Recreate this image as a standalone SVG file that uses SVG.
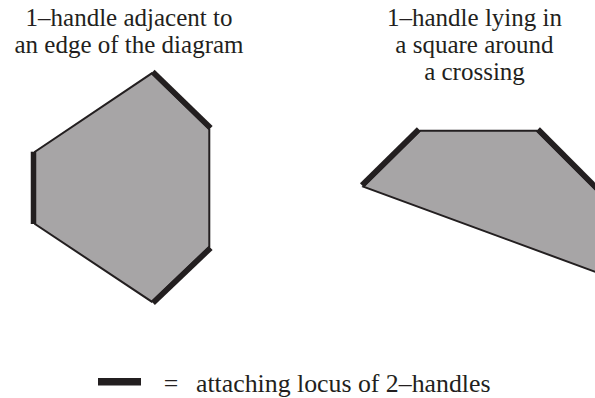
<svg xmlns="http://www.w3.org/2000/svg" width="595" height="398" viewBox="0 0 595 398">
<style>
.t{font-family:'Liberation Serif','Times New Roman','DejaVu Serif',serif;font-size:25px;fill:#231f20;text-anchor:middle}
.lg{font-size:25.8px}
.shape{fill:#a7a5a6;stroke:#231f20;stroke-width:2;stroke-linejoin:miter}
.thick{stroke:#231f20;stroke-width:5.5;stroke-linecap:butt;fill:none}
</style>
<rect width="595" height="398" fill="#ffffff"/>
<g id="title-left">
<text class="t" font-family="Liberation Serif, serif" x="129" y="26">1–handle adjacent to</text>
<text class="t" font-family="Liberation Serif, serif" x="129" y="53">an edge of the diagram</text>
</g>
<g id="title-right">
<text class="t" font-family="Liberation Serif, serif" x="474.5" y="26">1–handle lying in</text>
<text class="t" font-family="Liberation Serif, serif" x="474.5" y="53">a square around</text>
<text class="t" font-family="Liberation Serif, serif" x="474.5" y="80">a crossing</text>
</g>
<g id="hexagon">
<polygon class="shape" points="151.7,73.3 209.3,129.3 209.3,246.7 151.7,301.7 35,224 35,151.7"/>
<line class="thick" x1="152.7" y1="71.8" x2="210.7" y2="128"/>
<line class="thick" x1="210.7" y1="248" x2="153" y2="303"/>
<line class="thick" x1="33.5" y1="151.7" x2="33.5" y2="224"/>
</g>
<g id="crossing-handle">
<polygon class="shape" points="363.3,186.7 420,130.7 536.7,130.7 598,192 598,272.8"/>
<line class="thick" x1="361.9" y1="185.3" x2="418.8" y2="129.2"/>
<line class="thick" x1="538" y1="129.3" x2="599" y2="190.3"/>
</g>
<g id="legend">
<rect x="98" y="378" width="43" height="7.5" fill="#231f20"/>
<text class="t lg" font-family="Liberation Serif, serif" x="171" y="392">=</text>
<text class="t lg" font-family="Liberation Serif, serif" x="196" y="392" style="text-anchor:start">attaching locus of 2–handles</text>
</g>
</svg>
